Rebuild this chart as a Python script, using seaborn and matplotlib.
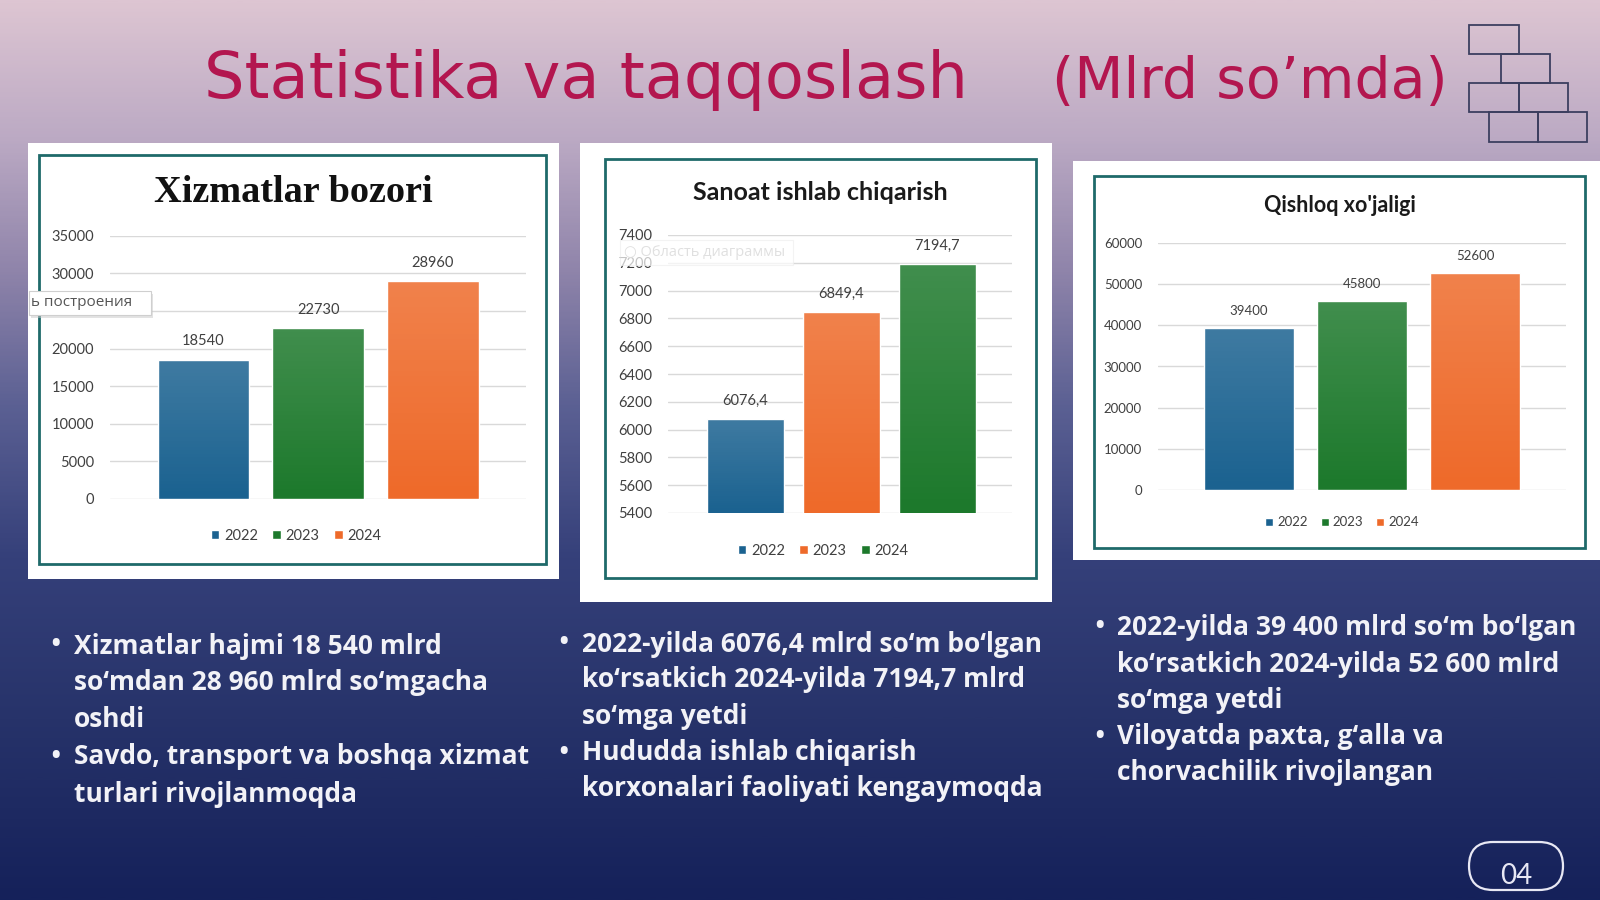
import numpy as np
import pandas as pd
import matplotlib
matplotlib.use("Agg")
import matplotlib.pyplot as plt
from matplotlib.patches import Rectangle, FancyBboxPatch, Patch
from matplotlib.colors import LinearSegmentedColormap
import seaborn as sns

# DATA (mlrd so'm)
years = ["2022", "2023", "2024"]
xizmat_vals = [18540, 22730, 28960]
xizmat_labels = ["18540", "22730", "28960"]
sanoat_vals = [6076.4, 6849.4, 7194.7]
sanoat_labels = ["6076,4", "6849,4", "7194,7"]
qishloq_vals = [39400, 45800, 52600]
qishloq_labels = ["39400", "45800", "52600"]

chart_titles = ["Xizmatlar bozori", "Sanoat ishlab chiqarish", "Qishloq xo'jaligi"]
xizmat_ticks = [0, 5000, 10000, 15000, 20000, 25000, 30000, 35000]
# 25000 is hidden behind the tooltip in the screenshot
xizmat_ticklabels = ["0", "5000", "10000", "15000", "20000", "", "30000", "35000"]
sanoat_ticks = [5400, 5600, 5800, 6000, 6200, 6400, 6600, 6800, 7000, 7200, 7400]
qishloq_ticks = [0, 10000, 20000, 30000, 40000, 50000, 60000]

bullets_1 = [["Xizmatlar hajmi 18 540 mlrd", "so‘mdan 28 960 mlrd so‘mgacha", "oshdi"],
             ["Savdo, transport va boshqa xizmat", "turlari rivojlanmoqda"]]
bullets_2 = [["2022-yilda 6076,4 mlrd so‘m bo‘lgan", "ko‘rsatkich 2024-yilda 7194,7 mlrd", "so‘mga yetdi"],
             ["Hududda ishlab chiqarish", "korxonalari faoliyati kengaymoqda"]]
bullets_3 = [["2022-yilda 39 400 mlrd so‘m bo‘lgan", "ko‘rsatkich 2024-yilda 52 600 mlrd", "so‘mga yetdi"],
             ["Viloyatda paxta, g‘alla va", "chorvachilik rivojlangan"]]

BLUE = "#1b6290"
GREEN = "#1d792c"
ORANGE = "#ee6a2a"

sns.set_style("white")
plt.rcParams["font.family"] = ["Lato", "DejaVu Sans"]

W, H = 1600, 900
fig = plt.figure(figsize=(16, 9), dpi=100)

# background axes in pixel coordinates
bg = fig.add_axes([0, 0, 1, 1], zorder=0)
bg.set_xlim(0, W)
bg.set_ylim(H, 0)
bg.axis("off")
grad_cmap = LinearSegmentedColormap.from_list("bg", [
    (0.00, "#ddc5d2"), (0.15, "#bcaac4"), (0.30, "#8f84aa"),
    (0.45, "#5b6093"), (0.62, "#35407a"), (0.80, "#27336a"), (1.00, "#15215a")])
bg.imshow(np.linspace(0, 1, 400).reshape(-1, 1), extent=[0, W, H, 0],
          aspect="auto", cmap=grad_cmap, zorder=0)

# title
bg.text(204, 98, "Statistika va taqqoslash", fontsize=46, color="#b3164f",
        family="DejaVu Sans", va="baseline", ha="left", zorder=2)
bg.text(1052, 98, "(Mlrd so’mda)", fontsize=41, color="#b3164f",
        family="DejaVu Sans", va="baseline", ha="left", zorder=2)

# bricks decoration
bricks = [(1469, 25, 50, 29), (1501, 54, 49, 29), (1469, 83, 50, 29), (1519, 83, 49, 29),
          (1489, 112, 49, 30), (1538, 112, 49, 30)]
for bx, by, bw, bh in bricks:
    bg.add_patch(Rectangle((bx, by), bw, bh, fill=False, ec="#3c3f60", lw=1.3, zorder=2))

# white cards with teal borders
cards = [((27.6, 143, 531.6, 436), (38.8, 154.5, 507.2, 409)),
         ((580, 143, 472, 459), (605, 159, 431, 419)),
         ((1072.5, 161, 527.5, 399), (1094, 175.5, 490.5, 372.5))]
for (cx, cy, cw, ch), (ix, iy, iw, ih) in cards:
    bg.add_patch(Rectangle((cx, cy), cw, ch, fc="white", ec="none", zorder=2))
    bg.add_patch(Rectangle((ix, iy), iw, ih, fill=False, ec="#1f6a6a", lw=2, zorder=3))

bg.text(293, 193, chart_titles[0], fontsize=27.5, fontweight="bold", family="Liberation Serif",
        ha="center", va="center", color="#111111", zorder=4)
bg.text(820, 193, chart_titles[1], fontsize=18, fontweight="bold",
        ha="center", va="center", color="#1a1a1a", zorder=4)
bg.text(1340, 206, chart_titles[2], fontsize=15.5, fontweight="bold",
        ha="center", va="center", color="#1a1a1a", zorder=4)

shade = LinearSegmentedColormap.from_list("shade", [(1, 1, 1, 0.0), (1, 1, 1, 0.16)])


def add_ax(x0, x1, y0, y1):
    return fig.add_axes([x0 / W, 1 - y1 / H, (x1 - x0) / W, (y1 - y0) / H], zorder=2)


def bar_chart(ax, vals, labels, pal, ticks, ticklabels, ylim, xlim, fs, leg_xy, leg_fs):
    df = pd.DataFrame({"year": years, "value": vals})
    sns.barplot(data=df, x="year", y="value", hue="year", palette=pal, width=0.8,
                saturation=1, legend=False, ax=ax, zorder=3)
    for p in ax.patches:
        x0 = p.get_x()
        y0 = max(p.get_y(), ylim[0])
        y1 = p.get_y() + p.get_height()
        img = ax.imshow(np.linspace(1, 0, 100).reshape(-1, 1), cmap=shade, aspect="auto",
                        extent=[x0, x0 + p.get_width(), y0, y1], zorder=3.5)
        img.set_clip_path(p)
    for i, cont in enumerate(ax.containers):
        ax.bar_label(cont, labels=[labels[i]], padding=8, fontsize=fs, color="#404040")
    ax.set_xlim(*xlim)
    ax.set_ylim(*ylim)
    ax.set_yticks(ticks)
    ax.set_yticklabels(ticklabels)
    ax.set_xticks([])
    ax.set_xlabel("")
    ax.set_ylabel("")
    ax.yaxis.grid(True, color="#d9d9d9", lw=1)
    ax.set_axisbelow(True)
    for s in ax.spines.values():
        s.set_visible(False)
    ax.patch.set_alpha(0)
    ax.tick_params(axis="y", length=0, pad=11.5, labelsize=fs, labelcolor="#404040")
    handles = [Patch(facecolor=c) for c in pal]
    ax.legend(handles, years, loc="center", bbox_to_anchor=leg_xy, bbox_transform=bg.transData,
              ncol=3, frameon=False, handlelength=0.6, handleheight=0.6, handletextpad=0.3,
              columnspacing=1.0, fontsize=leg_fs, labelcolor="#404040")


ax1 = add_ax(110, 525.5, 235.7, 499)
bar_chart(ax1, xizmat_vals, xizmat_labels, [BLUE, GREEN, ORANGE], xizmat_ticks, xizmat_ticklabels,
          (0, 35000), (-0.815, 2.806), 10.5, (296, 535.7), 10.5)

ax2 = add_ax(668, 1012, 235, 513)
bar_chart(ax2, sanoat_vals, sanoat_labels, [BLUE, ORANGE, GREEN], sanoat_ticks,
          [str(t) for t in sanoat_ticks], (5400, 7400), (-0.807, 2.776), 10.5, (823, 551), 10.5)

ax3 = add_ax(1158, 1566, 243, 490)
bar_chart(ax3, qishloq_vals, qishloq_labels, [BLUE, GREEN, ORANGE], qishloq_ticks,
          [str(t) for t in qishloq_ticks], (0, 60000), (-0.805, 2.805), 9.5, (1342, 522.4), 9.5)

# foreground overlay (tooltips left over from the screenshot)
fg = fig.add_axes([0, 0, 1, 1], zorder=5)
fg.set_xlim(0, W)
fg.set_ylim(H, 0)
fg.axis("off")
fg.add_patch(Rectangle((31, 294), 122, 24, fc="#c8c8c8", ec="none", alpha=0.5))
fg.add_patch(Rectangle((28.6, 291), 122, 24, fc="white", ec="#cfcfcf", lw=0.8))
fg.text(31, 303, "ь построения", fontsize=11, color="#555555", family="Open Sans",
        va="center", ha="left")
fg.add_patch(Rectangle((620, 240), 173, 25, fc="white", ec="#eeeeee", lw=0.8, alpha=0.7))
fg.text(624, 252, "○ Область диаграммы", fontsize=10.5, color="#e0e0e0",
        family=["Open Sans", "DejaVu Sans"], va="center", ha="left")

# bullet texts
columns = [(bullets_1, 55, 73.5, [646, 682.6, 719.4, 757, 794]),
           (bullets_2, 563, 581.6, [644, 679.6, 716, 753, 789]),
           (bullets_3, 1099, 1117, [627.5, 664, 701, 737, 773])]
for bl, bx, tx, ys in columns:
    k = 0
    for item in bl:
        fg.text(bx, ys[k], "•", fontsize=24, color="#f2f2f7", family="Open Sans",
                ha="center", va="center")
        for line in item:
            fg.text(tx, ys[k], line, fontsize=19, fontweight="bold", color="#f2f2f7",
                    family="Open Sans", ha="left", va="center")
            k += 1

# page number pill
fg.add_patch(FancyBboxPatch((1469, 842), 94, 48, boxstyle="round,pad=0,rounding_size=24",
                            fill=False, ec="#e8e8f4", lw=1.6))
fg.text(1516, 876, "04", fontsize=20, color="#e8e8f4", family="Lato",
        ha="center", va="center")

fig.savefig("out.png", dpi=100)
